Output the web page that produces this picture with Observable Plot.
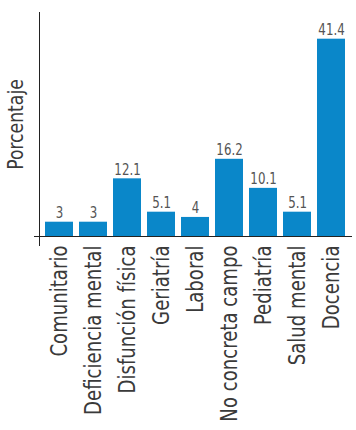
<!DOCTYPE html>
<html>
<head>
<meta charset="utf-8">
<script src="https://cdn.jsdelivr.net/npm/d3@7"></script>
<script src="https://cdn.jsdelivr.net/npm/@observablehq/plot@0.6"></script>
<style>
  html, body { margin: 0; padding: 0; background: #fff; }
</style>
</head>
<body>
<div id="chart"></div>
<script>
const categories = ["Comunitario", "Deficiencia mental", "Disfunción física", "Geriatría", "Laboral", "No concreta campo", "Pediatría", "Salud mental", "Docencia"];
const values = [3, 3, 12.1, 5.1, 4, 16.2, 10.1, 5.1, 41.4];
const yLabel = "Porcentaje";

const data = categories.map((c, i) => ({category: c, value: values[i]}));

const chart = Plot.plot({
  width: 356,
  height: 430,
  marginTop: 12,
  marginBottom: 194,
  marginLeft: 39,
  marginRight: 6,
  style: {fontFamily: '"DejaVu Sans Condensed", "Liberation Sans", sans-serif', background: "#fff"},
  x: {domain: categories, paddingInner: 0.18, paddingOuter: 0.1},
  y: {domain: [0, 47]},
  marks: [
    Plot.barY(data, {x: "category", y: "value", fill: "#0a87c9"}),
    Plot.text(data, {x: "category", y: "value", text: d => String(d.value), lineAnchor: "bottom", dy: -4, fontSize: 16, fill: "#555"}),
    Plot.frame({anchor: "left", stroke: "#222", strokeWidth: 1, insetBottom: -9}),
    Plot.ruleY([0], {stroke: "#222", strokeWidth: 1, insetLeft: -5, insetRight: -2}),
    Plot.axisX({tickSize: 0, tickPadding: 9, tickRotate: -90, fontSize: 23, color: "#3a3a3a", label: null}),
    Plot.axisY({ticks: [], label: yLabel, labelAnchor: "center", labelArrow: "none", labelOffset: 32, fontSize: 22, color: "#3a3a3a"})
  ]
});
document.getElementById("chart").append(chart);

// condense texts along their reading direction (narrow typeface look)
function condense(selector, k) {
  chart.querySelectorAll(selector).forEach(t => {
    const tr = t.getAttribute("transform") || "";
    t.setAttribute("transform", tr + ` scale(${k},1)`);
  });
}
condense('g[aria-label="x-axis tick label"] text', 0.875);
condense('g[aria-label="y-axis label"] text', 0.87);
condense('g[aria-label="text"] text', 0.82);
</script>
</body>
</html>
